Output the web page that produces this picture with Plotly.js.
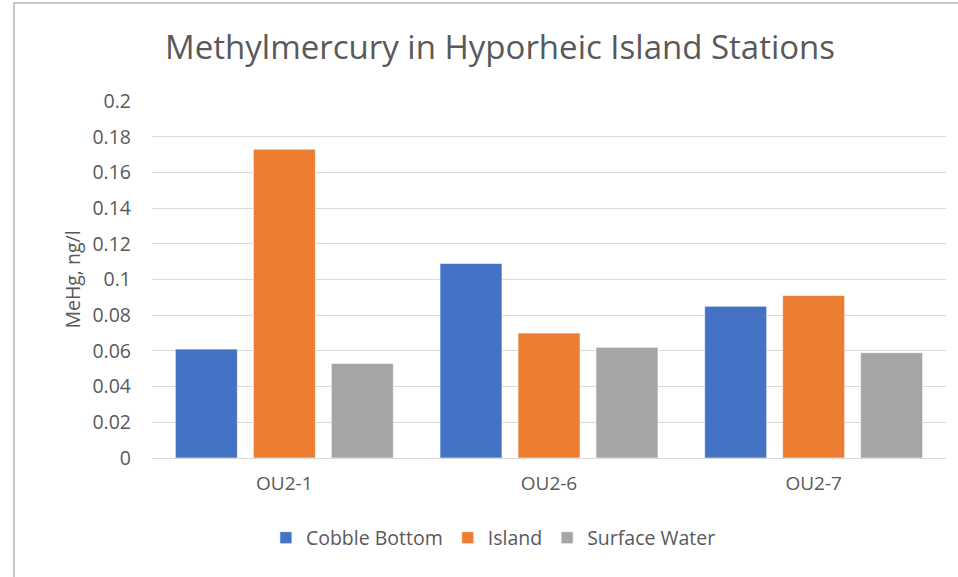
<!DOCTYPE html>
<html>
<head>
<meta charset="utf-8">
<script src="https://cdn.plot.ly/plotly-3.0.1.min.js"></script>
<style>
  html, body { margin: 0; padding: 0; background: #ffffff; }
  #frame { position: absolute; left: 0; top: 0; width: 958px; height: 577px; overflow: hidden; }
  #border { position: absolute; left: 13px; top: 2px; width: 945px; height: 575px;
            border-left: 2px solid #c8c8c8; border-top: 2px solid #c8c8c8; box-sizing: border-box; }
  #chart { position: absolute; left: 0; top: 0; width: 958px; height: 577px; }
</style>
</head>
<body>
<div id="frame">
  <div id="chart"></div>
  <div id="border"></div>
</div>
<script>
const categories = ["OU2-1", "OU2-6", "OU2-7"];
const cobbleBottom = [0.061, 0.109, 0.085];
const island = [0.173, 0.070, 0.091];
const surfaceWater = [0.053, 0.062, 0.059];
const yTickVals = [0, 0.02, 0.04, 0.06, 0.08, 0.1, 0.12, 0.14, 0.16, 0.18, 0.2];
const yTickText = ["0", "0.02", "0.04", "0.06", "0.08", "0.1", "0.12", "0.14", "0.16", "0.18", "0.2"];

const FONT = "Open Sans, sans-serif";
const TXT = "#595959";

function barTrace(name, vals, color) {
  return {
    type: "bar", name: name, x: categories, y: vals,
    marker: { color: color, line: { color: "rgba(255,255,255,0.6)", width: 1 } },
    hoverinfo: "skip"
  };
}

const data = [
  barTrace("Cobble Bottom", cobbleBottom, "#4472C4"),
  barTrace("Island", island, "#ED7D31"),
  barTrace("Surface Water", surfaceWater, "#A5A5A5")
];

const layout = {
  width: 958, height: 577,
  paper_bgcolor: "rgba(0,0,0,0)", plot_bgcolor: "rgba(0,0,0,0)",
  margin: { l: 152, r: 12, t: 101, b: 119, pad: 0 },
  barmode: "group", bargap: 0.116, bargroupgap: 0.205,
  title: {
    text: "Methylmercury in Hyporheic Island Stations",
    font: { family: FONT, size: 33, color: TXT },
    x: 0.522, xanchor: "center", xref: "container", y: 0.918, yanchor: "middle", yref: "container"
  },
  xaxis: {
    type: "category", showgrid: false, zeroline: false, showline: false, ticks: "",
    tickfont: { family: FONT, size: 19, color: TXT }, ticklabelstandoff: 12
  },
  yaxis: {
    range: [0, 0.2], tickvals: yTickVals, ticktext: yTickText,
    showgrid: true, gridcolor: "#d9d9d9", gridwidth: 1,
    zeroline: true, zerolinecolor: "#d9d9d9", zerolinewidth: 1,
    showline: false, ticks: "",
    tickfont: { family: FONT, size: 19.5, color: TXT }, ticklabelstandoff: 20,
    title: { text: "MeHg, ng/l", font: { family: FONT, size: 19.5, color: TXT }, standoff: 6 }
  },
  legend: {
    orientation: "h", x: 0.43, xanchor: "center", y: -0.224, yanchor: "middle",
    font: { family: FONT, size: 19.5, color: TXT }, itemwidth: 30, traceorder: "normal",
    bgcolor: "rgba(0,0,0,0)"
  },
  showlegend: true
};

Plotly.newPlot("chart", data, layout, { displayModeBar: false, staticPlot: true });
</script>
</body>
</html>
